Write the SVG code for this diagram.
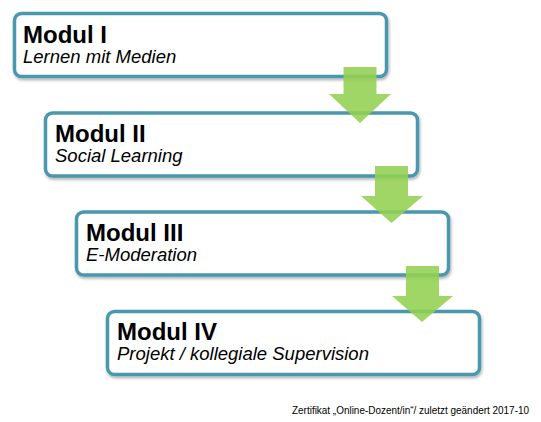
<svg xmlns="http://www.w3.org/2000/svg" width="541" height="422" viewBox="0 0 541 422">
<defs>
<filter id="sh" x="-5%" y="-10%" width="110%" height="130%">
<feDropShadow dx="1" dy="2" stdDeviation="1.5" flood-color="#000" flood-opacity="0.3"/>
</filter>
<style>
.box{fill:#fff;stroke:#4a98ae;stroke-width:3.5;filter:url(#sh)}
.t{font-family:"Liberation Sans",Arial,sans-serif;font-weight:bold;font-size:24px;fill:#000}
.s{font-family:"Liberation Sans",Arial,sans-serif;font-style:italic;font-size:18.5px;fill:#000}
.arr{fill:#92d050;fill-opacity:0.88}
.f{font-family:"Liberation Sans",Arial,sans-serif;font-size:10px;fill:#000}
</style>
</defs>
<rect width="541" height="422" fill="#fff"/>
<g id="modul1">
<rect class="box" x="14.5" y="13.5" width="372" height="63" rx="7"/>
<text class="t" x="23" y="43">Modul I</text>
<text class="s" x="23" y="63">Lernen mit Medien</text>
</g>
<g id="modul2">
<rect class="box" x="45.5" y="113" width="372" height="63" rx="7"/>
<text class="t" x="55" y="142">Modul II</text>
<text class="s" x="55" y="162">Social Learning</text>
</g>
<g id="modul3">
<rect class="box" x="76.5" y="212" width="372" height="63" rx="7"/>
<text class="t" x="86" y="241">Modul III</text>
<text class="s" x="86" y="261">E-Moderation</text>
</g>
<g id="modul4">
<rect class="box" x="107.5" y="311.5" width="372" height="63" rx="7"/>
<text class="t" x="117" y="340">Modul IV</text>
<text class="s" x="117" y="360">Projekt / kollegiale Supervision</text>
</g>
<g id="connectors">
<polygon class="arr" points="343.5,67 376.5,67 376.5,94 391,94 360,123 329,94 343.5,94"/>
<polygon class="arr" points="375,166 408,166 408,196 423,196 391.5,223 361,196 375,196"/>
<polygon class="arr" points="406,266 439,266 439,296 453,296 422,322 392,296 406,296"/>
</g>
<text class="f" x="292" y="414" textLength="237" lengthAdjust="spacingAndGlyphs">Zertifikat „Online-Dozent/in“/ zuletzt geändert 2017-10</text>
</svg>
